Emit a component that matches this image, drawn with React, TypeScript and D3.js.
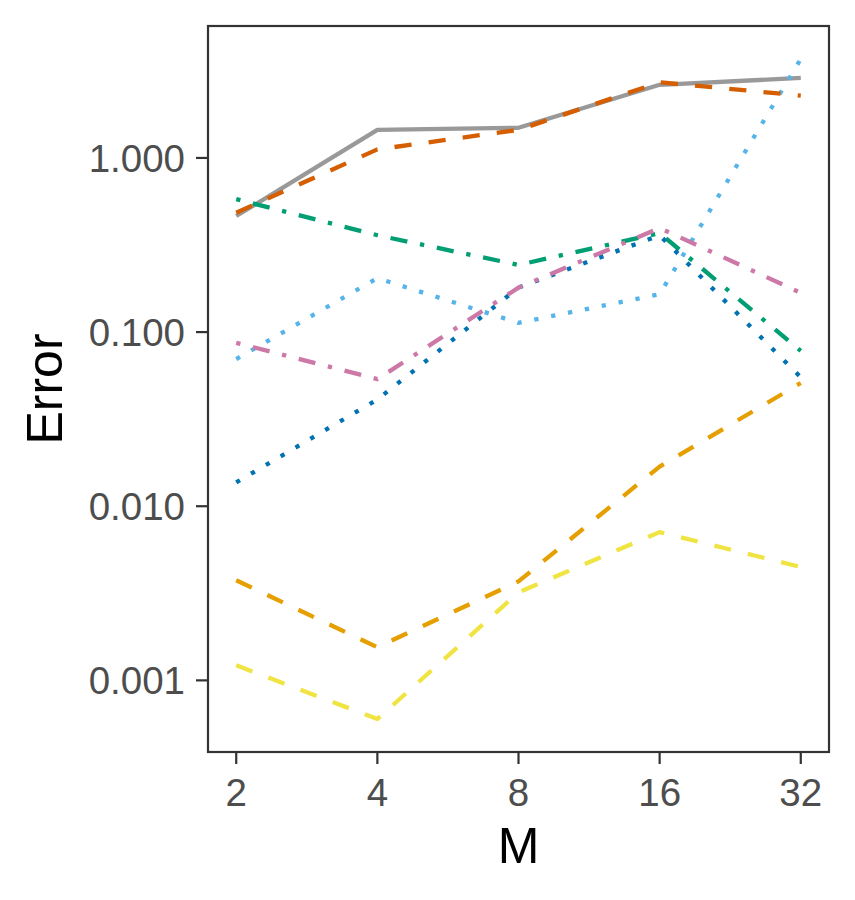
import React from "react";
import * as d3 from "d3";

const mValues = [2, 4, 8, 16, 32];
const yTickValues = [0.001, 0.01, 0.1, 1];
const yTickLabels = ["0.001", "0.010", "0.100", "1.000"];
const xTickLabels = ["2", "4", "8", "16", "32"];

const seriesNames = ["S1", "S2", "S3", "S4", "S5", "S6", "S7", "S8"];
const seriesColors = ["#999999", "#E69F00", "#56B4E9", "#009E73", "#F0E442", "#0072B2", "#D55E00", "#CC79A7"];
const seriesLinetypes = ["solid", "dashed", "dotted", "dotdash", "dashed", "dotted", "dashed", "dotdash"];

const greyValues = [0.464, 1.45, 1.49, 2.63, 2.88];
const orangeValues = [0.00376, 0.00155, 0.0037, 0.0169, 0.051];
const skyblueValues = [0.07, 0.204, 0.113, 0.165, 3.7];
const greenValues = [0.58, 0.36, 0.243, 0.37, 0.078];
const yellowValues = [0.00122, 0.0006, 0.0032, 0.0071, 0.00448];
const blueValues = [0.0137, 0.041, 0.18, 0.36, 0.055];
const vermillionValues = [0.485, 1.12, 1.45, 2.72, 2.28];
const pinkValues = [0.0868, 0.0537, 0.18, 0.396, 0.168];

const allSeries = [greyValues, orangeValues, skyblueValues, greenValues, yellowValues, blueValues, vermillionValues, pinkValues];

const W = 855;
const H = 900;
const panel = { left: 208, right: 829, top: 26, bottom: 752 };
const LWD = 4.3;

function dashFor(lt: string): string | undefined {
  const pat: Record<string, number[]> = {
    dashed: [4, 4],
    dotted: [1, 3],
    dotdash: [1, 3, 4, 3],
  };
  const p = pat[lt];
  return p ? p.map((d) => d * LWD).join(" ") : undefined;
}

export default function App() {
  const lx = mValues.map((m) => Math.log2(m));
  const lxMin = d3.min(lx)!;
  const lxMax = d3.max(lx)!;
  const exX = (lxMax - lxMin) * 0.05;
  const x = d3
    .scaleLog()
    .base(2)
    .domain([Math.pow(2, lxMin - exX), Math.pow(2, lxMax + exX)])
    .range([panel.left, panel.right]);

  const all = allSeries.flat();
  const lyMin = Math.log10(d3.min(all)!);
  const lyMax = Math.log10(d3.max(all)!);
  const exY = (lyMax - lyMin) * 0.05;
  const y = d3
    .scaleLog()
    .domain([Math.pow(10, lyMin - exY), Math.pow(10, lyMax + exY)])
    .range([panel.bottom, panel.top]);

  const line = d3
    .line<number>()
    .x((_, i) => x(mValues[i]))
    .y((v) => y(v));

  const font = "'Liberation Sans', Arial, Helvetica, sans-serif";

  return (
    <svg width={W} height={H} style={{ position: "absolute", left: 0, top: 0, background: "#fff" }} fontFamily={font}>
      <rect x={0} y={0} width={W} height={H} fill="#ffffff" />
      <defs>
        <clipPath id="panelClip">
          <rect x={panel.left} y={panel.top} width={panel.right - panel.left} height={panel.bottom - panel.top} />
        </clipPath>
      </defs>
      <g clipPath="url(#panelClip)">
        {allSeries.map((vals, i) => (
          <path
            key={seriesNames[i]}
            d={line(vals) || ""}
            fill="none"
            stroke={seriesColors[i]}
            strokeWidth={LWD}
            strokeDasharray={dashFor(seriesLinetypes[i])}
            strokeLinecap="butt"
            strokeLinejoin="round"
          />
        ))}
      </g>
      <rect
        x={panel.left}
        y={panel.top}
        width={panel.right - panel.left}
        height={panel.bottom - panel.top}
        fill="none"
        stroke="#333333"
        strokeWidth={2.2}
      />
      {yTickValues.map((v, i) => (
        <g key={"yt" + i}>
          <line x1={panel.left - 12} x2={panel.left} y1={y(v)} y2={y(v)} stroke="#333333" strokeWidth={2.2} />
          <text x={185} y={y(v)} dy="0.36em" textAnchor="end" fontSize={38.5} fill="#4D4D4D">
            {yTickLabels[i]}
          </text>
        </g>
      ))}
      {mValues.map((m, i) => (
        <g key={"xt" + i}>
          <line x1={x(m)} x2={x(m)} y1={panel.bottom} y2={panel.bottom + 12} stroke="#333333" strokeWidth={2.2} />
          <text x={x(m)} y={806} textAnchor="middle" fontSize={38.5} fill="#4D4D4D">
            {xTickLabels[i]}
          </text>
        </g>
      ))}
      <text x={(panel.left + panel.right) / 2} y={863} textAnchor="middle" fontSize={50} fill="#000000">
        M
      </text>
      <text
        transform={`translate(62, ${(panel.top + panel.bottom) / 2}) rotate(-90)`}
        textAnchor="middle"
        fontSize={50}
        fill="#000000"
      >
        Error
      </text>
    </svg>
  );
}
